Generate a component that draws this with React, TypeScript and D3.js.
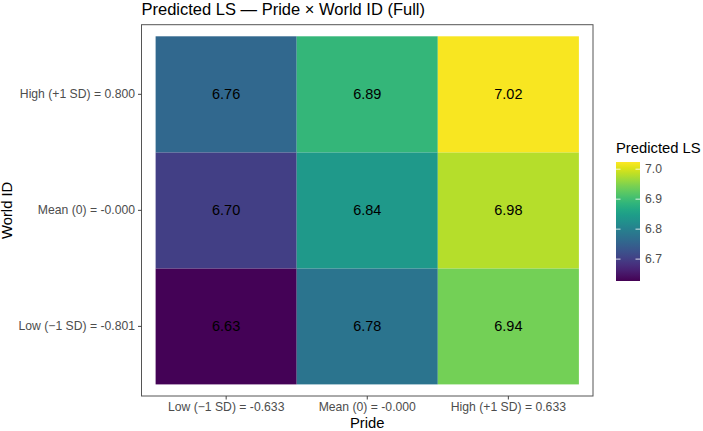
import React, { useRef, useEffect } from "react";
import * as d3 from "d3";

// Predicted life satisfaction on a 3x3 grid of Pride x World ID levels
const prideLevels = ["Low (\u22121 SD) = -0.633", "Mean (0) = -0.000", "High (+1 SD) = 0.633"];
const worldLevels = ["Low (\u22121 SD) = -0.801", "Mean (0) = -0.000", "High (+1 SD) = 0.800"];
// rows follow worldLevels, columns follow prideLevels
const lowWorld = [6.63, 6.78, 6.94];
const meanWorld = [6.7, 6.84, 6.98];
const highWorld = [6.76, 6.89, 7.02];
const legendTicks = [6.7, 6.8, 6.9, 7.0];

const W = 703;
const H = 431;
const FONT = "'Liberation Sans', Arial, Helvetica, sans-serif";

const App: React.FC = () => {
  const svgRef = useRef<SVGSVGElement>(null);

  useEffect(() => {
    document.body.style.margin = "0";
    if (!svgRef.current) return;
    const svg = d3.select(svgRef.current);
    svg.selectAll("*").remove();

    const rows = [lowWorld, meanWorld, highWorld];
    const cells = rows.flatMap((vals, r) =>
      vals.map((v, c) => ({ pride: prideLevels[c], world: worldLevels[r], value: v }))
    );

    const panel = { left: 141.5, right: 593, top: 24.7, bottom: 396 };

    // discrete scales with ggplot-style 0.6 expansion on each side
    const x = d3
      .scaleBand()
      .domain(prideLevels)
      .range([panel.left, panel.right])
      .paddingInner(0)
      .paddingOuter(0.1);
    const y = d3
      .scaleBand()
      .domain([...worldLevels].reverse())
      .range([panel.top, panel.bottom])
      .paddingInner(0)
      .paddingOuter(0.1);

    const allVals = cells.map((d) => d.value);
    const vMin = d3.min(allVals)! - 0.003;
    const vMax = d3.max(allVals)! + 0.004;
    const color = d3.scaleSequential(d3.interpolateViridis).domain([vMin, vMax]);

    // tiles
    svg
      .append("g")
      .selectAll("rect")
      .data(cells)
      .join("rect")
      .attr("x", (d) => x(d.pride)!)
      .attr("y", (d) => y(d.world)!)
      .attr("width", x.bandwidth())
      .attr("height", y.bandwidth())
      .attr("fill", (d) => color(d.value));

    svg
      .append("g")
      .selectAll("text")
      .data(cells)
      .join("text")
      .attr("x", (d) => x(d.pride)! + x.bandwidth() / 2)
      .attr("y", (d) => y(d.world)! + y.bandwidth() / 2)
      .attr("dy", "0.35em")
      .attr("text-anchor", "middle")
      .style("font-family", FONT)
      .style("font-size", "14.5px")
      .attr("fill", "#000")
      .text((d) => d.value.toFixed(2));

    // panel border
    svg
      .append("rect")
      .attr("x", panel.left)
      .attr("y", panel.top)
      .attr("width", panel.right - panel.left)
      .attr("height", panel.bottom - panel.top)
      .attr("fill", "none")
      .attr("stroke", "#555")
      .attr("stroke-width", 1);

    // axes
    const xAxis = svg
      .append("g")
      .attr("transform", `translate(0,${panel.bottom})`)
      .call(d3.axisBottom(x).tickSize(3.5).tickSizeOuter(0).tickPadding(3));
    const yAxis = svg
      .append("g")
      .attr("transform", `translate(${panel.left},0)`)
      .call(d3.axisLeft(y).tickSize(3.5).tickSizeOuter(0).tickPadding(3));
    [xAxis, yAxis].forEach((a) => {
      a.select(".domain").remove();
      a.selectAll("line").attr("stroke", "#444");
      a.selectAll("text")
        .style("font-family", FONT)
        .style("font-size", "12.2px")
        .attr("fill", "#4d4d4d");
    });

    // titles
    svg
      .append("text")
      .attr("x", panel.left)
      .attr("y", 15)
      .style("font-family", FONT)
      .style("font-size", "16.5px")
      .attr("fill", "#000")
      .text("Predicted LS \u2014 Pride \u00d7 World ID (Full)");

    svg
      .append("text")
      .attr("x", (panel.left + panel.right) / 2)
      .attr("y", 428)
      .attr("text-anchor", "middle")
      .style("font-family", FONT)
      .style("font-size", "14.8px")
      .text("Pride");

    svg
      .append("text")
      .attr("transform", `translate(12,${(panel.top + panel.bottom) / 2}) rotate(-90)`)
      .attr("text-anchor", "middle")
      .style("font-family", FONT)
      .style("font-size", "14.8px")
      .text("World ID");

    // colour bar legend
    const bar = { x: 616, w: 24, top: 162, bottom: 281 };
    const ly = d3.scaleLinear().domain([vMin, vMax]).range([bar.bottom, bar.top]);
    const defs = svg.append("defs");
    const grad = defs
      .append("linearGradient")
      .attr("id", "lsGrad")
      .attr("x1", 0)
      .attr("y1", 1)
      .attr("x2", 0)
      .attr("y2", 0);
    d3.range(0, 1.0001, 0.05).forEach((t) => {
      grad
        .append("stop")
        .attr("offset", t)
        .attr("stop-color", d3.interpolateViridis(t));
    });
    const legend = svg.append("g");
    legend
      .append("text")
      .attr("x", bar.x)
      .attr("y", 153)
      .style("font-family", FONT)
      .style("font-size", "14.8px")
      .text("Predicted LS");
    legend
      .append("rect")
      .attr("x", bar.x)
      .attr("y", bar.top)
      .attr("width", bar.w)
      .attr("height", bar.bottom - bar.top)
      .attr("fill", "url(#lsGrad)");
    const tk = legend.selectAll(".tk").data(legendTicks).join("g").attr("class", "tk");
    tk.append("line")
      .attr("x1", bar.x)
      .attr("x2", bar.x + 4.5)
      .attr("y1", (d) => ly(d))
      .attr("y2", (d) => ly(d))
      .attr("stroke", "#fff")
      .attr("stroke-width", 0.8);
    tk.append("line")
      .attr("x1", bar.x + bar.w - 4.5)
      .attr("x2", bar.x + bar.w)
      .attr("y1", (d) => ly(d))
      .attr("y2", (d) => ly(d))
      .attr("stroke", "#fff")
      .attr("stroke-width", 0.8);
    tk.append("text")
      .attr("x", bar.x + bar.w + 5)
      .attr("y", (d) => ly(d))
      .attr("dy", "0.35em")
      .style("font-family", FONT)
      .style("font-size", "12.2px")
      .attr("fill", "#4d4d4d")
      .text((d) => d.toFixed(1));
  }, []);

  return <svg ref={svgRef} width={W} height={H} style={{ display: "block", background: "#fff" }} />;
};

export default App;
